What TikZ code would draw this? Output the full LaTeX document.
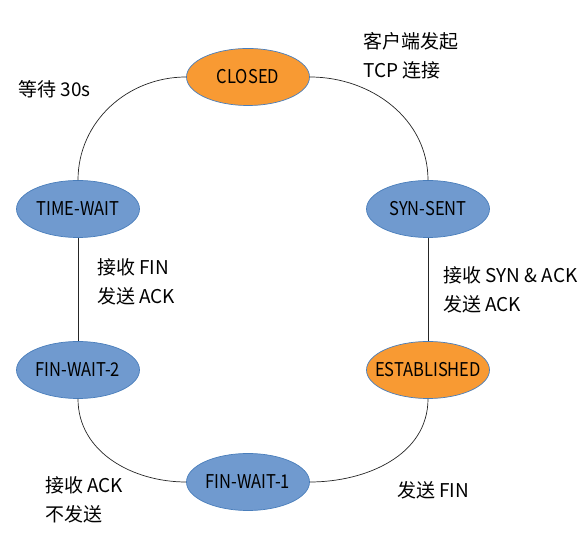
\documentclass[tikz,border=0pt]{standalone}
\usepackage{fontspec}
\setmainfont{Noto Sans CJK SC}
\newfontfamily\statefont[FakeStretch=0.87]{Noto Sans CJK SC}
\definecolor{stateorange}{HTML}{F89A33}
\definecolor{stateblue}{HTML}{709ACF}
\definecolor{stateline}{HTML}{4A7EBB}
\usetikzlibrary{shapes.geometric}
\newcommand{\statename}[1]{\makebox[0pt]{\statefont #1}}
\tikzset{
    state/.style={ellipse, draw=stateline, line width=0.5pt, minimum width=3.075cm, minimum height=1.425cm, inner sep=0pt},
    hot/.style={state, fill=stateorange},
    cold/.style={state, fill=stateblue},
    note/.style={anchor=west, align=left, inner sep=0pt},
    link/.style={draw=black!85, line width=0.5pt}
}

\begin{document}
\begin{tikzpicture}[font=\fontsize{13.5}{20.6}\selectfont]
    \useasboundingbox (0,0) rectangle (14.575,13.775);

    % States
    \node[hot]  (closed)   at (6.2,11.85)  {\statename{CLOSED}};
    \node[cold] (timewait) at (1.95,8.55)  {\statename{TIME-WAIT}};
    \node[cold] (synsent)  at (10.7,8.55)  {\statename{SYN-SENT}};
    \node[cold] (finwait2) at (1.95,4.525) {\statename{FIN-WAIT-2}};
    \node[hot]  (estab)    at (10.7,4.525) {\statename{ESTABLISHED}};
    \node[cold] (finwait1) at (6.2,1.725)  {\statename{FIN-WAIT-1}};

    % Transitions
    \draw[link] (closed.west) to[out=180,in=90] (timewait.north);
    \draw[link] (closed.east) to[out=0,in=90] (synsent.north);
    \draw[link] (timewait.south) -- (finwait2.north);
    \draw[link] (synsent.south) -- (estab.north);
    \draw[link] (finwait2.south) to[out=-90,in=180] (finwait1.west);
    \draw[link] (estab.south) to[out=-90,in=0] (finwait1.east);

    % Labels
    \node[note] (wait)    at (0.45,11.55)   {等待 30s};
    \node[note] (open)    at (9.075,12.375) {客户端发起\\TCP 连接};
    \node[note] (gotfin)  at (2.425,6.725)  {接收 FIN\\发送 ACK};
    \node[note] (gotsyn)  at (11.075,6.54)  {接收 SYN \& ACK\\发送 ACK};
    \node[note] (gotack)  at (1.125,1.275)  {接收 ACK\\不发送};
    \node[note] (sendfin) at (9.925,1.525)  {发送 FIN};
\end{tikzpicture}
\end{document}
